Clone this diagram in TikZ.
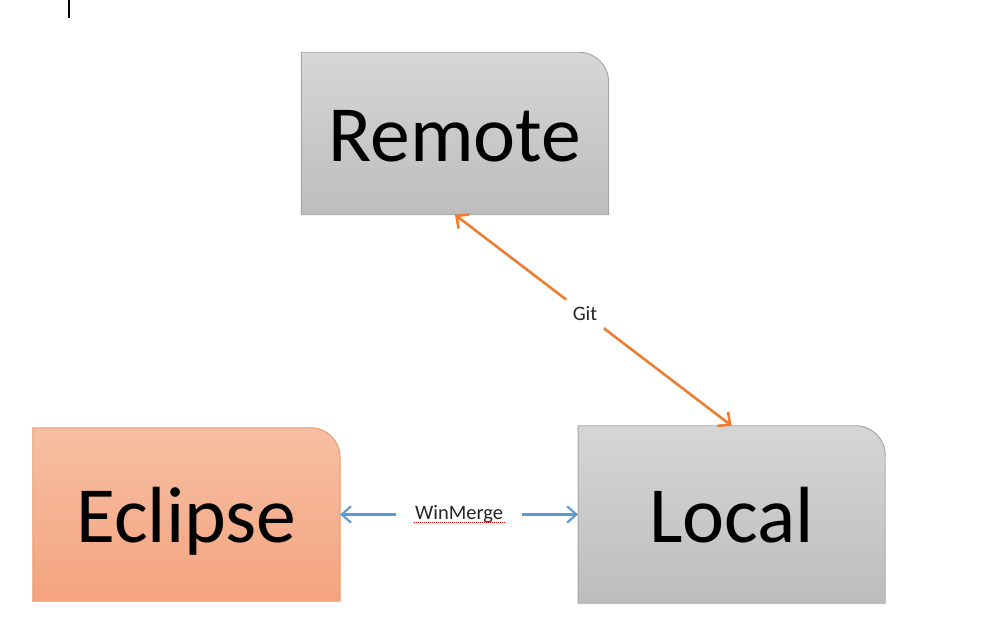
\documentclass[tikz,border=0pt]{standalone}
\usepackage{fontspec}
\setmainfont{Carlito}
\usetikzlibrary{positioning, arrows.meta, backgrounds}
\definecolor{greyTop}{RGB}{214,214,214}
\definecolor{greyBottom}{RGB}{189,189,189}
\definecolor{greyLine}{RGB}{165,165,165}
\definecolor{peachTop}{RGB}{246,191,164}
\definecolor{peachBottom}{RGB}{244,164,126}
\definecolor{peachLine}{RGB}{238,150,100}
\definecolor{gitOrange}{RGB}{237,125,49}
\definecolor{mergeBlue}{RGB}{91,155,213}
\tikzset{
  repo/.style={minimum width=9.2cm, inner sep=0pt, text height=2.3cm, text depth=0.6cm, font=\fontsize{68}{72}\selectfont},
  greyfill/.style={top color=greyTop, bottom color=greyBottom, draw=greyLine, line width=0.8pt},
  peachfill/.style={top color=peachTop, bottom color=peachBottom, draw=peachLine, line width=0.8pt},
  gitarrow/.style={gitOrange, line width=2.2pt, <->, >={Straight Barb[length=8pt,width=15pt]}},
  mergearrow/.style={mergeBlue, line width=1.8pt, <->, >={Straight Barb[length=8pt,width=14pt]}},
  tag/.style={fill=white, text=black!85, font=\fontsize{17.5}{20}\selectfont}
}
% box with one rounded corner, drawn behind the node
\newcommand{\tabbox}[2]{%
  \draw[#2] (#1.south west) -- (#1.north west) -- ([xshift=-0.88cm]#1.north east)
    arc[start angle=90, end angle=0, radius=0.88cm] -- (#1.south east) -- cycle;}
\begin{document}
\begin{tikzpicture}[x=0.03cm, y=-0.03cm]
  \useasboundingbox (0,0) rectangle (999,625);
  \node (eclipse) [repo, minimum height=5.19cm] at (186.5,514.5) {Eclipse};
  \node (local) [repo, minimum height=5.31cm, right=7.14cm of eclipse] {Local};
  \node (remote) [repo, minimum height=4.86cm, above=6.33cm of local, xshift=-8.3cm] {Remote};
  \begin{scope}[on background layer]
    \tabbox{remote}{greyfill}
    \tabbox{local}{greyfill}
    \tabbox{eclipse}{peachfill}
  \end{scope}
  \draw [gitarrow] (remote.south) -- node[tag, pos=0.47, inner xsep=6pt, inner ysep=7pt] {Git} (local.north);
  \draw [mergearrow] (eclipse.east) -- node (wm) [tag, inner xsep=16pt, inner ysep=4pt] {WinMerge} (local.west);
  \draw [red, densely dotted, line width=0.7pt] ([xshift=16pt, yshift=-2.5pt]wm.base west) -- ([xshift=-16pt, yshift=-2.5pt]wm.base east);
  \coordinate (caretTop) at (69,0);
  \coordinate (caretEnd) at (69,18);
  \draw [black, line width=1.4pt] (caretTop) -- (caretEnd);
\end{tikzpicture}
\end{document}
